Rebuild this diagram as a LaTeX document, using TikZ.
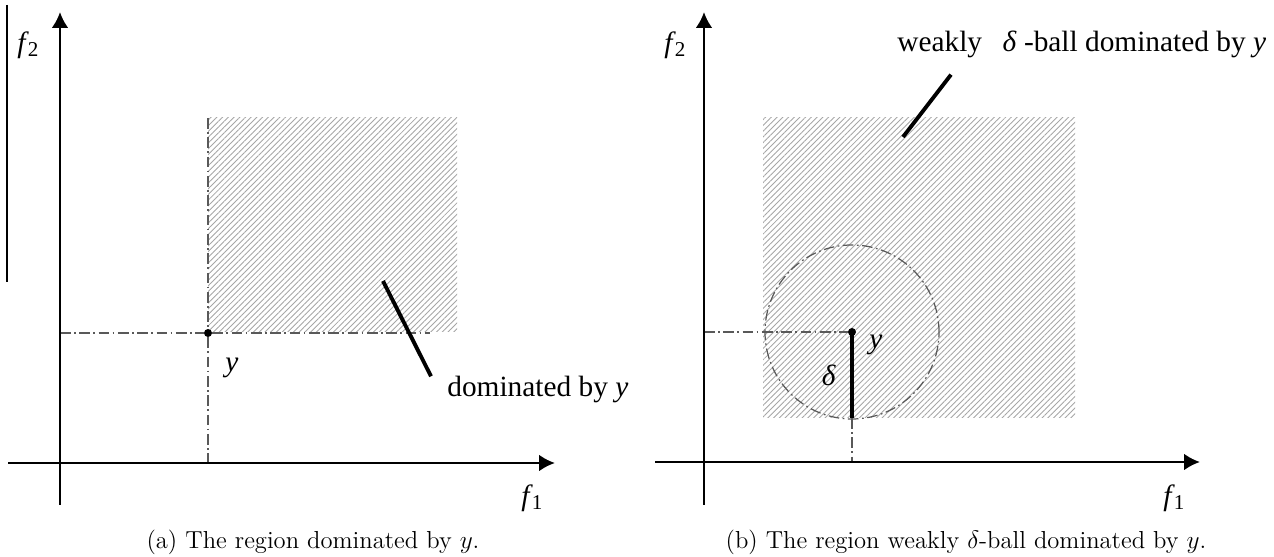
\documentclass[tikz,border=0pt]{standalone}
\usepackage{fontspec}
\newfontfamily\tnr{Liberation Serif}
\usetikzlibrary{arrows.meta,patterns.meta,positioning}

\newcommand{\fsub}[1]{\textit{f}\kern-0.6pt\raisebox{-0.3ex}{\fontsize{12}{12}\selectfont #1}}

\tikzset{
  axis/.style={line width=1.5pt, -{Latex[length=9pt,width=9.5pt]}},
  guide/.style={black!65, line width=0.7pt, dash pattern=on 6pt off 2pt on 1pt off 2pt},
  hatch/.style={pattern={Lines[angle=45,distance=2.3pt,line width=0.5pt]}, pattern color=black!35},
  leader/.style={line width=2.2pt},
  dot/.style={circle, fill, inner sep=0pt, minimum size=1.6mm},
  lbl/.style={font=\tnr\fontsize{16.7}{20}\selectfont, inner sep=0pt},
  capt/.style={font=\fontsize{14}{17}\selectfont, inner sep=0pt}
}

\begin{document}
\begin{tikzpicture}[x=0.2mm,y=0.2mm]
\useasboundingbox (0,0) rectangle (1274,557);

% jari-jari bola delta
\def\r{87}

% garis tipis di tepi kiri
\draw[line width=0.6pt] (7,552) -- (7,275);

% --- (a) ---
\begin{scope}[shift={(60,94)}]
\coordinate (oa) at (0,0);
\fill[hatch] (148,131) rectangle (397,345);

\node[dot] (ya) at (148,130) {};
\coordinate (topa) at (148,345);
\draw[guide] (topa) -- (ya) -- (ya |- oa);
\draw[guide] (oa |- ya) -- (ya) -- ++(222,0);

\draw[axis] (-52,0) -- (495,0);
\draw[axis] (0,-42) -- (0,451);

\node[lbl] (f2a) at (-32,418) {\fsub{2}};
\node[lbl] (f1a) at (472,-35) {\fsub{1}};
\node[lbl] (lya) at (172,95) {\textit{y}};

\node[lbl, anchor=base west] (doma) at (387,66) {dominated by \textit{y}};
\coordinate (tipa) at (323,182);
\draw[leader] (tipa) -- ([xshift=-3.2mm]doma.north west);

\node[capt] (capa) at (253,-79) {(a) The region dominated by $y$.};
\end{scope}

% --- (b) ---
\begin{scope}[shift={(704,95)}]
\coordinate (ob) at (0,0);
\fill[hatch] (59,44) rectangle (371,344);

\node[dot] (yb) at (148,130) {};
\coordinate (botb) at (148,44);
\draw[guide] (yb) circle (\r);
\draw[guide] (ob |- yb) -- (yb);
\draw[guide] (botb) -- (botb |- ob);
\draw[line width=2.8pt] (yb.center) -- (botb);

\draw[axis] (-49,0) -- (496,0);
\draw[axis] (0,-43) -- (0,450);

\node[lbl] (f2b) at (-29,417) {\fsub{2}};
\node[lbl] (f1b) at (470,-36) {\fsub{1}};
\node[lbl] (lyb) at (172,117) {\textit{y}};
\node[lbl] (ldb) at (125,87) {\textit{δ}};

\node[lbl, anchor=base west] (weakb) at (193,410) {weakly\hspace{0.7em}\textit{δ} -ball dominated by \textit{y}};
\coordinate (tipb) at (199,325);
\draw[leader] (tipb) -- ([shift={(54,-16)}]weakb.south west);

\node[capt] (capb) at (262,-80) {(b) The region weakly $\delta$-ball dominated by $y$.};
\end{scope}

\end{tikzpicture}
\end{document}
